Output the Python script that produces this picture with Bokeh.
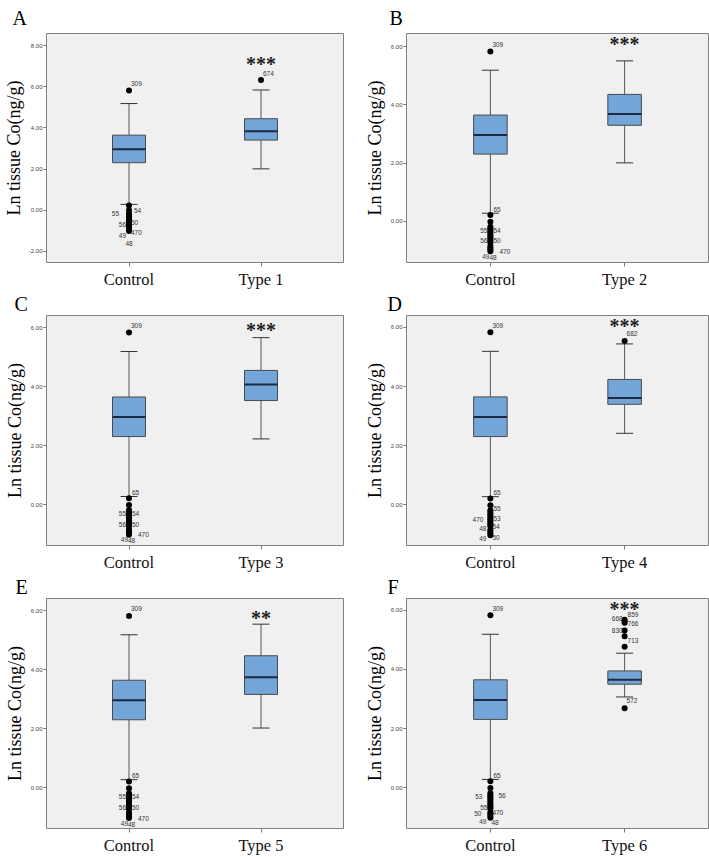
from bokeh.plotting import figure
from bokeh.layouts import gridplot
from bokeh.models import FactorRange, Range1d, FixedTicker, NumeralTickFormatter, ColumnDataSource, Title
from bokeh.core.properties import value
from bokeh.embed import file_html
from bokeh.resources import INLINE

# ---------------- data ----------------
panel_letters = ["A", "B", "C", "D", "E", "F"]
control_name = "Control"
type_names = ["Type 1", "Type 2", "Type 3", "Type 4", "Type 5", "Type 6"]

control_lower = 0.28
control_q1 = 2.31
control_median = 2.97
control_q3 = 3.65
control_upper = 5.19
control_outliers = [5.83, 0.22, -0.01, -0.18, -0.24, -0.30, -0.36, -0.42, -0.48,
                    -0.54, -0.60, -0.66, -0.72, -0.84, -0.90, -0.96, -1.02]

type_lower = [2.01, 2.01, 2.23, 2.42, 2.03, 3.07]
type_q1 = [3.41, 3.30, 3.53, 3.40, 3.17, 3.50]
type_median = [3.84, 3.69, 4.07, 3.61, 3.75, 3.65]
type_q3 = [4.45, 4.36, 4.55, 4.24, 4.48, 3.95]
type_upper = [5.85, 5.51, 5.66, 5.44, 5.55, 4.55]
type_outliers = [[6.34], [], [], [5.54], [], [5.68, 5.64, 5.58, 5.32, 5.12, 4.77, 2.69]]

significance = ["***", "***", "***", "***", "**", "***"]
significance_y = [7.25, 6.20, 6.03, 6.16, 5.86, 6.14]

y_start = [-2.55, -1.41, -1.38, -1.37, -1.375, -1.38]
y_end = [8.60, 6.45, 6.41, 6.40, 6.42, 6.40]
y_ticks = [[-2, 0, 2, 4, 6, 8], [0, 2, 4, 6], [0, 2, 4, 6], [0, 2, 4, 6], [0, 2, 4, 6], [0, 2, 4, 6]]

y_title = "Ln tissue Co(ng/g)"

# case-number labels: (text, group 0=control/1=type, outlier value, dx px, dy px, align)
labels_std = [("309", 0, 5.83, 2, -7, "left"), ("65", 0, 0.22, 3, -6, "left"),
              ("55", 0, -0.30, -3, 0, "right"), ("54", 0, -0.30, 3, 0, "left"),
              ("56", 0, -0.66, -3, 0, "right"), ("50", 0, -0.66, 3, 0, "left"),
              ("470", 0, -1.02, 9, 0, "left"), ("49", 0, -1.02, -1, 5, "right"),
              ("48", 0, -1.02, -1, 6, "left")]
case_labels = [
    [("309", 0, 5.83, 2, -7, "left"), ("55", 0, -0.18, -10, 0, "right"),
     ("54", 0, -0.01, 5, 0, "left"), ("56", 0, -0.72, -3, 0, "right"),
     ("50", 0, -0.60, 2, 0, "left"), ("49", 0, -1.02, -3, 4, "right"),
     ("470", 0, -1.02, 2, 1, "left"), ("48", 0, -1.02, 0, 12, "center"),
     ("674", 1, 6.34, 2, -6, "left")],
    labels_std,
    labels_std,
    [("309", 0, 5.83, 2, -7, "left"), ("65", 0, 0.22, 3, -6, "left"),
     ("55", 0, -0.18, 3, -2, "left"), ("470", 0, -0.48, -7, 0, "right"),
     ("53", 0, -0.48, 3, -1, "left"), ("48", 0, -0.72, -4, 2, "right"),
     ("54", 0, -0.72, 2, 0, "left"), ("49", 0, -1.02, -4, 3, "right"),
     ("50", 0, -1.02, 2, 2, "left"), ("682", 1, 5.54, 2, -7, "left")],
    labels_std,
    [("309", 0, 5.83, 2, -7, "left"), ("65", 0, 0.22, 3, -6, "left"),
     ("53", 0, -0.30, -8, 0, "right"), ("56", 0, -0.30, 8, -1, "left"),
     ("55", 0, -0.66, -3, 0, "right"), ("470", 0, -0.84, 2, 0, "left"),
     ("50", 0, -0.84, -9, 1, "right"), ("49", 0, -1.02, -4, 4, "right"),
     ("48", 0, -1.02, 1, 5, "left"), ("859", 1, 5.68, 3, -5, "left"),
     ("668", 1, 5.64, -2, -2, "right"), ("766", 1, 5.58, 3, 1, "left"),
     ("830", 1, 5.32, -2, 0, "right"), ("713", 1, 5.12, 3, 4, "left"),
     ("572", 1, 2.69, 2, -8, "left")],
]

# ---------------- styling / layout ----------------
BOX_FILL = "#74a5d9"
BOX_LINE = "#4a4a4a"
MEDIAN = "#1c2a3f"
WHISK = "#555555"
BG = "#f0f0f0"
row_geom = [(291, 33, 26), (283, 24, 27), (283, 24, 27)]   # height, top border, bottom border
letter_standoff = [7, 0, 0]
letter_offset = [-34, -17, -32, -19, -31, -19]
PAD = 0.125


def build(i):
    left = (i % 2 == 0)
    r = i // 2
    w = 354 if left else 355
    bl = 44 if left else 52
    br = 11 if left else 1
    h, bt, bb = row_geom[r]
    cats = [control_name, type_names[i]]

    p = figure(x_range=FactorRange(factors=cats, range_padding=PAD, range_padding_units="absolute"),
               y_range=Range1d(y_start[i], y_end[i]),
               width=w, height=h, min_border_left=bl, min_border_right=br,
               min_border_top=bt, min_border_bottom=bb,
               output_backend="svg", toolbar_location=None, tools="", title=None)
    p.background_fill_color = BG
    p.border_fill_color = "white"
    p.outline_line_color = "#808080"
    p.outline_line_width = 1
    p.grid.visible = False

    p.add_layout(Title(text=panel_letters[i], align="left", vertical_align="middle",
                       offset=letter_offset[i], standoff=letter_standoff[r],
                       text_font="Liberation Serif", text_font_size="20px",
                       text_font_style="normal", text_color="black"), "above")

    yax = p.yaxis[0]
    yax.ticker = FixedTicker(ticks=y_ticks[i])
    yax.formatter = NumeralTickFormatter(format="0.00")
    yax.major_label_text_font = "Liberation Sans"
    yax.major_label_text_font_size = "6px"
    yax.major_label_text_color = "#444444"
    yax.major_tick_out = 3
    yax.major_tick_in = 0
    yax.major_tick_line_color = "#777777"
    yax.minor_tick_line_color = None
    yax.axis_line_color = None
    yax.major_label_standoff = 1
    yax.axis_label = y_title
    yax.axis_label_text_font = "Liberation Serif"
    yax.axis_label_text_font_size = "18px"
    yax.axis_label_text_font_style = "normal"
    yax.axis_label_text_color = "black"
    yax.axis_label_standoff = 2 if i == 0 else 3

    xax = p.xaxis[0]
    xax.axis_label = None
    xax.axis_label_standoff = 0
    xax.major_label_text_font = "Liberation Serif"
    xax.major_label_text_font_size = "16.5px"
    xax.major_label_text_color = "#111111"
    xax.major_tick_out = 4
    xax.major_tick_in = 0
    xax.major_tick_line_color = "#777777"
    xax.axis_line_color = None
    xax.major_label_standoff = 3

    src = ColumnDataSource(dict(
        x=cats,
        lower=[control_lower, type_lower[i]],
        q1=[control_q1, type_q1[i]],
        med=[control_median, type_median[i]],
        q3=[control_q3, type_q3[i]],
        upper=[control_upper, type_upper[i]],
    ))
    p.segment(x0="x", y0="q3", x1="x", y1="upper", source=src, line_color=WHISK, line_width=1)
    p.segment(x0="x", y0="q1", x1="x", y1="lower", source=src, line_color=WHISK, line_width=1)
    p.scatter(x="x", y="upper", source=src, marker="dash", size=17, line_color="#333333", line_width=1)
    p.scatter(x="x", y="lower", source=src, marker="dash", size=17, line_color="#333333", line_width=1)
    p.vbar(x="x", bottom="q1", top="q3", width=0.25, source=src,
           fill_color=BOX_FILL, line_color=BOX_LINE, line_width=1)
    p.rect(x="x", y="med", width=0.25, height=2, height_units="screen", source=src,
           fill_color=MEDIAN, line_color=None)

    ox = [control_name] * len(control_outliers) + [type_names[i]] * len(type_outliers[i])
    oy = list(control_outliers) + list(type_outliers[i])
    p.scatter(x=ox, y=oy, size=6, fill_color="black", line_color=None)

    for align in ("left", "right", "center"):
        items = [t for t in case_labels[i] if t[5] == align]
        if not items:
            continue
        p.text(x=[cats[t[1]] for t in items], y=[t[2] for t in items], text=[t[0] for t in items],
               x_offset=[t[3] for t in items], y_offset=[t[4] for t in items],
               text_align=align, text_baseline="middle",
               text_font=value("Liberation Sans"), text_font_size="6.5px", text_color="#333333")

    p.text(x=[type_names[i]], y=[significance_y[i]], text=[significance[i]],
           text_align="center", text_baseline="alphabetic", y_offset=3,
           text_font=value("Liberation Serif"), text_font_style="bold",
           text_font_size="20px", text_color="#222222")
    return p


panels = [build(i) for i in range(6)]
grid = gridplot([[panels[0], panels[1]], [panels[2], panels[3]], [panels[4], panels[5]]],
                toolbar_location=None)

open("out.html", "w").write(file_html(grid, INLINE))
